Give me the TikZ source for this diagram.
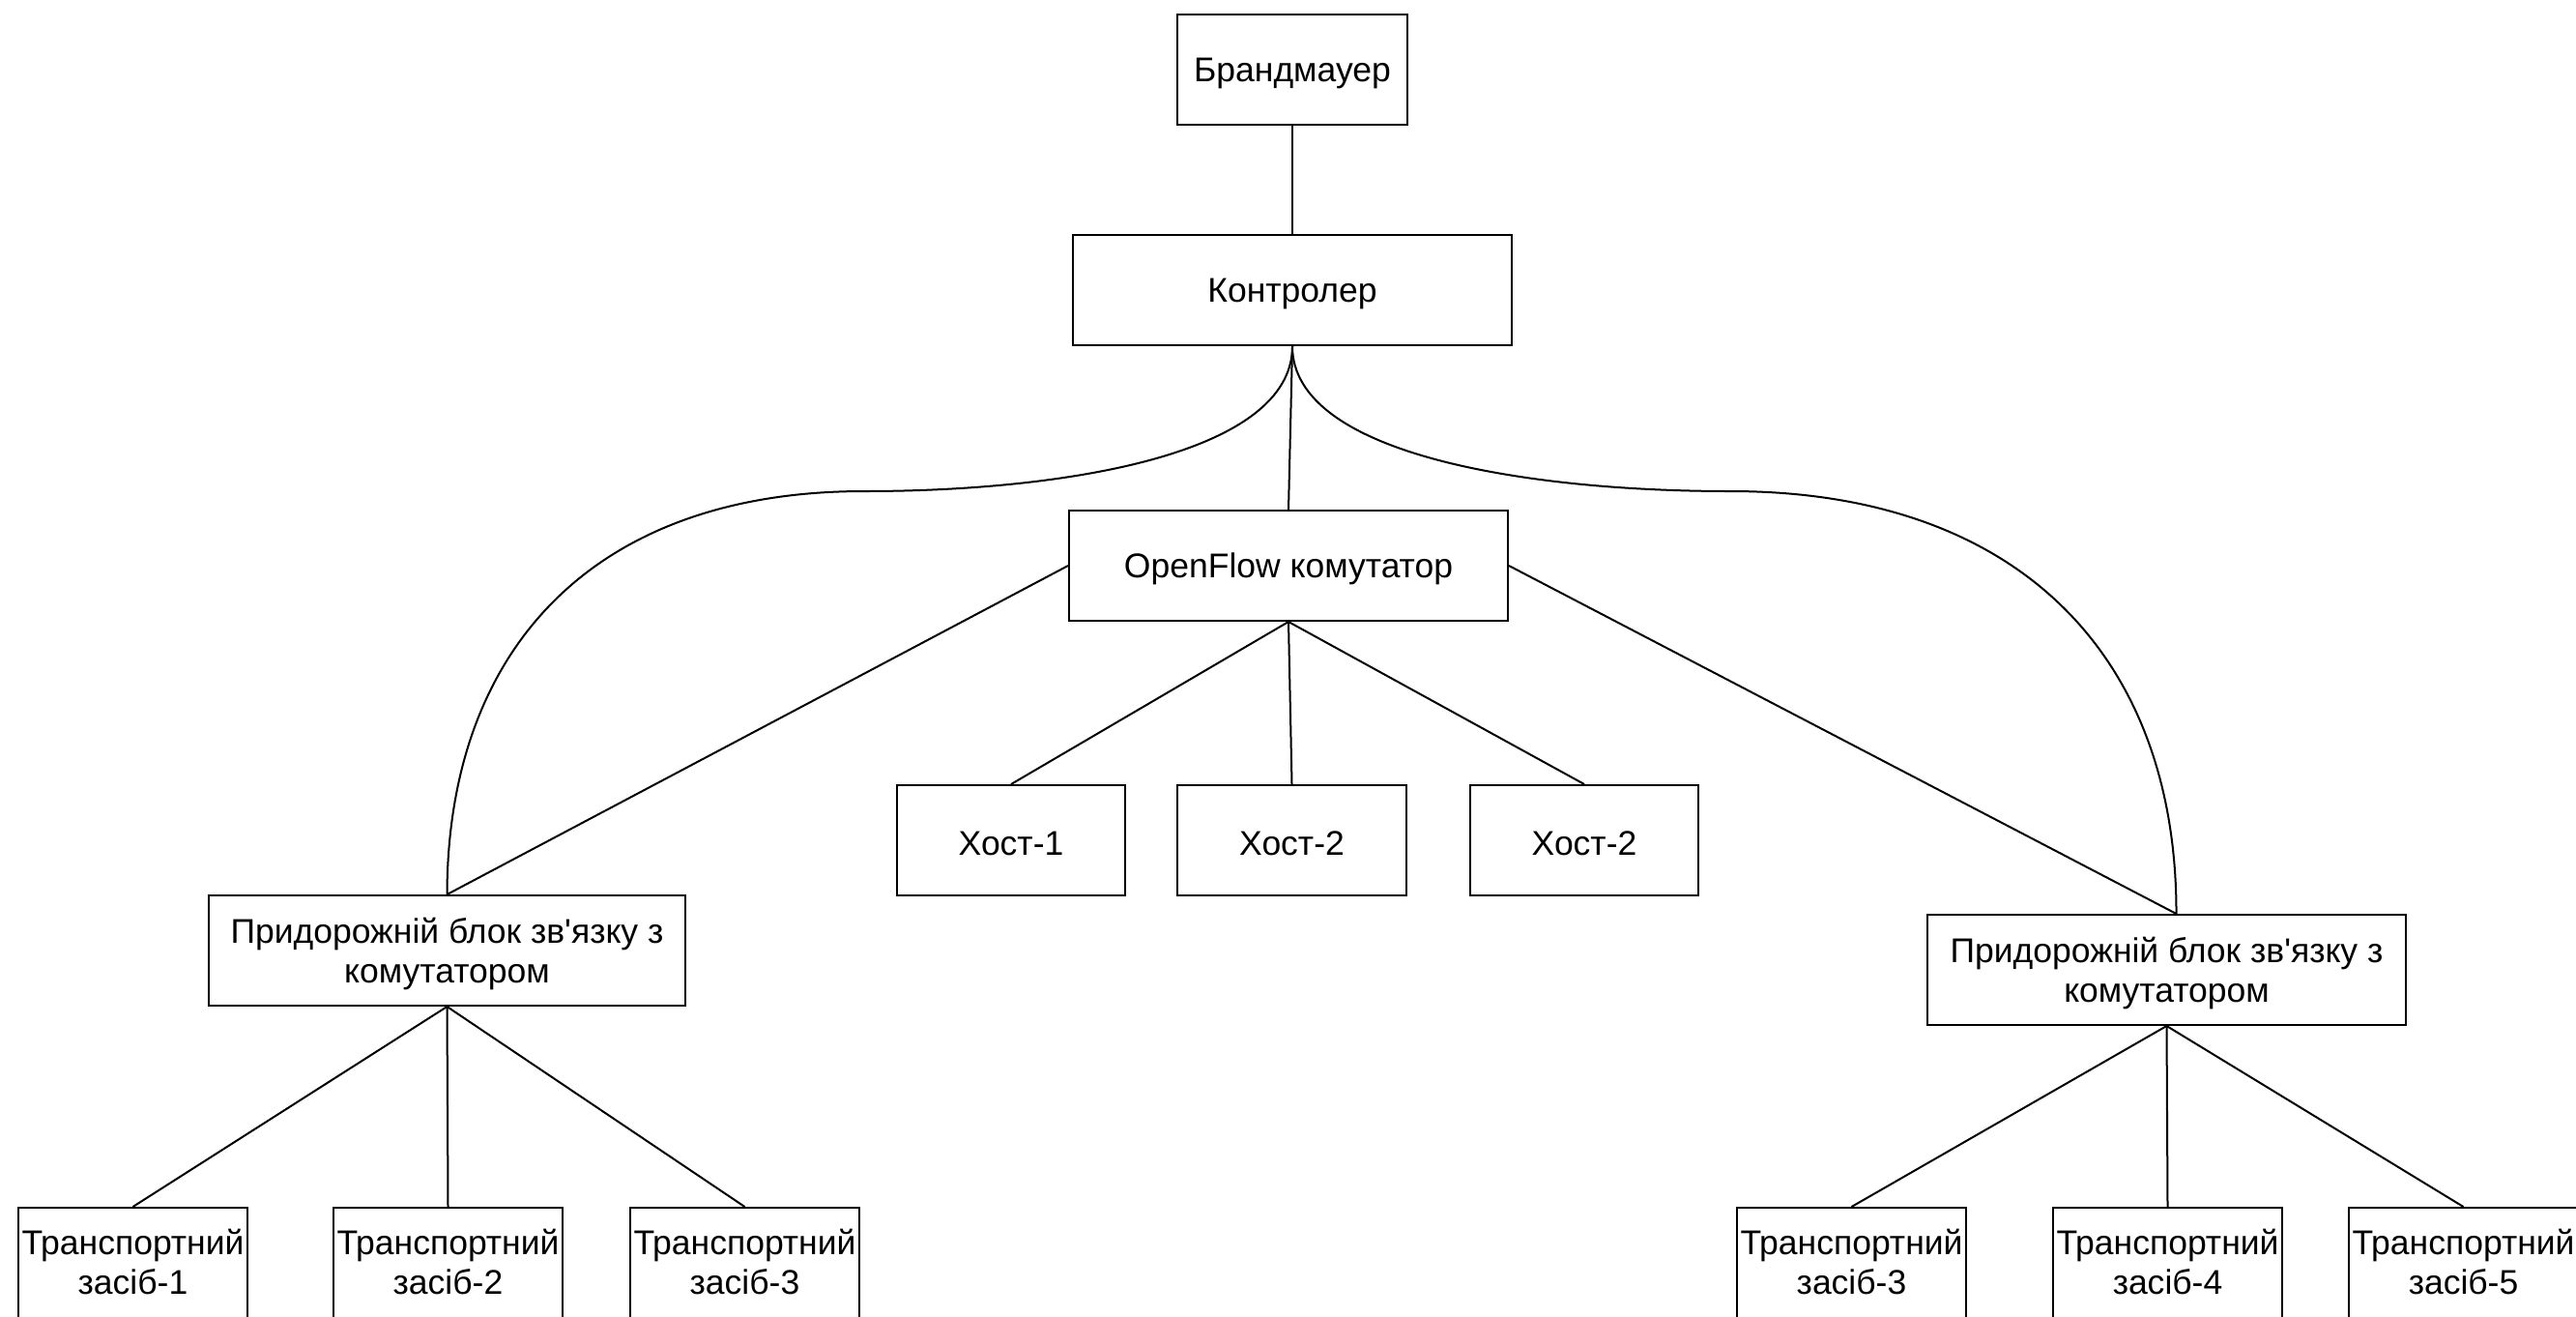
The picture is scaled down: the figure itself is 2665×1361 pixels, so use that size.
\documentclass[tikz,border=0pt]{standalone}
\usepackage{fontspec}
\setmainfont{Liberation Sans}[Ligatures=TeXOff]
\newcommand\dgfont{\fontsize{35.5}{41}\selectfont}
\begin{document}
\begin{tikzpicture}[x=1pt,y=-1pt,
  box/.style={draw, line width=2pt, inner sep=0pt, minimum height=114pt},
  txt/.style={font=\dgfont, align=center, inner sep=0pt, yshift=-3.5pt},
  vtxt/.style={txt, yshift=5pt},
  conn/.style={line width=2pt, line join=round}]
\fill[white] (0,0) rectangle (2665,1361);
\useasboundingbox (0,0) rectangle (2665,1361);
% boxes
\node[box, minimum width=238pt] (fw) at (1337,72) {};
\node[box, minimum width=454pt] (ctl) at (1337,300) {};
\node[box, minimum width=454pt] (ofs) at (1333,585) {};
\node[box, minimum width=236pt] (h1) at (1046,869) {};
\node[box, minimum width=237pt] (h2) at (1336.5,869) {};
\node[box, minimum width=236pt] (h3) at (1639,869) {};
\node[box, minimum width=493pt] (rsuL) at (462.5,983) {};
\node[box, minimum width=495pt] (rsuR) at (2241.5,1003) {};
\node[box, minimum width=237pt] (v1) at (137.5,1306) {};
\node[box, minimum width=237pt] (v2) at (463.5,1306) {};
\node[box, minimum width=237pt] (v3) at (770.5,1306) {};
\node[box, minimum width=237pt] (v4) at (1915.5,1306) {};
\node[box, minimum width=237pt] (v5) at (2242.5,1306) {};
\node[box, minimum width=237pt] (v6) at (2548.5,1306) {};
% texts
\node[txt] (fwt) at (fw) {Брандмауер};
\node[txt] (ctlt) at (ctl) {Контролер};
\node[txt] (ofst) at (ofs) {OpenFlow комутатор};
\node[txt] (h1t) at (h1) {Хост-1};
\node[txt] (h2t) at (h2) {Хост-2};
\node[txt] (h3t) at (h3) {Хост-2};
\node[txt] (rsuLt) at (rsuL) {Придорожній блок зв'язку з\\комутатором};
\node[txt] (rsuRt) at (rsuR) {Придорожній блок зв'язку з\\комутатором};
\node[vtxt] (v1t) at (v1) {Транспортний\\засіб-1};
\node[vtxt] (v2t) at (v2) {Транспортний\\засіб-2};
\node[vtxt] (v3t) at (v3) {Транспортний\\засіб-3};
\node[vtxt] (v4t) at (v4) {Транспортний\\засіб-3};
\node[vtxt] (v5t) at (v5) {Транспортний\\засіб-4};
\node[vtxt] (v6t) at (v6) {Транспортний\\засіб-5};
% helper coordinates
\coordinate (cl) at (894,508);
\coordinate (cr) at (1790,508);
\coordinate (rin) at ([xshift=10pt]rsuR.north);
% connectors
\draw[conn] (fw.south) -- (ctl.north);
\draw[conn] (ctl.south) -- (ofs.north);
\draw[conn] (ctl.south) .. controls (1337,470) and (1100,508) .. (cl)
  .. controls (614,508) and (463,671) .. (rsuL.north);
\draw[conn] (ctl.south) .. controls (1337,470) and (1580,508) .. (cr)
  .. controls (2090,508) and (2252,680) .. (rin);
\draw[conn] (ofs.west) -- (rsuL.north);
\draw[conn] (ofs.east) -- (rin);
\draw[conn] (ofs.south) -- (h1.north);
\draw[conn] (ofs.south) -- (h2.north);
\draw[conn] (ofs.south) -- (h3.north);
\draw[conn] (rsuL.south) -- (v1.north);
\draw[conn] (rsuL.south) -- (v2.north);
\draw[conn] (rsuL.south) -- (v3.north);
\draw[conn] (rsuR.south) -- (v4.north);
\draw[conn] (rsuR.south) -- (v5.north);
\draw[conn] (rsuR.south) -- (v6.north);
\end{tikzpicture}
\end{document}
